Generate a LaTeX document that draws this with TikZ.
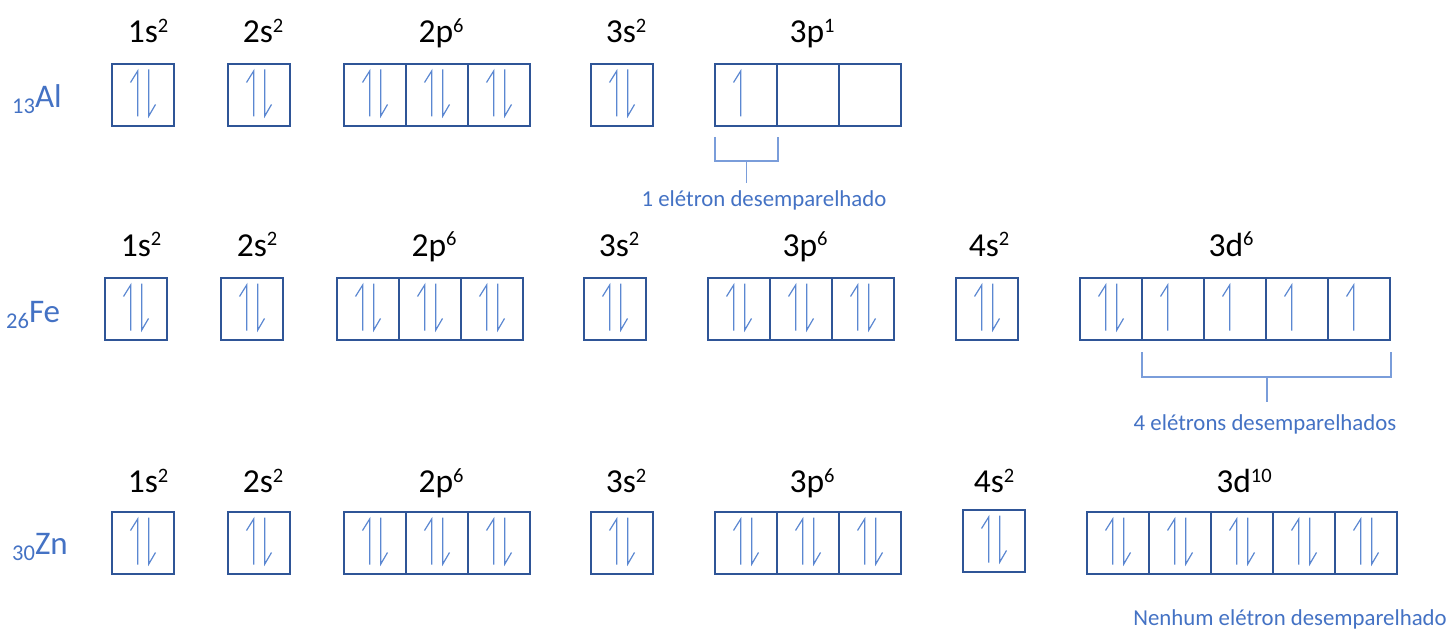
\documentclass[tikz,border=0pt]{standalone}
\usepackage{fontspec}
\setmainfont{Carlito}
\usetikzlibrary{calc}
\definecolor{boxc}{HTML}{2F5597}
\definecolor{elc}{HTML}{5B87D1}
\definecolor{txtc}{HTML}{4472C4}
\definecolor{brc}{HTML}{7A9DDA}
\newcommand\orbUp[1]{\draw[el] ($(#1)+(-5.3,21.5)$) -- ($(#1)+(-5.3,-24)$) -- ($(#1)+(-12.5,-12.5)$);}
\newcommand\orbDn[1]{\draw[el] ($(#1)+(5.8,-25.5)$) -- ($(#1)+(5.8,21)$) -- ($(#1)+(12.5,9.5)$);}
\newcommand\orbPair[1]{\orbUp{#1}\orbDn{#1}}
\newcommand\olab[2]{#1\raisebox{10pt}{\fontsize{20.5}{24}\selectfont #2}}
\newcommand\elab[2]{\raisebox{-6pt}{\fontsize{22.5}{26}\selectfont #1}\fontsize{33}{38}\selectfont #2}
\begin{document}
\begin{tikzpicture}[x=1pt,y=-1pt,
  orb/.style={draw=boxc,line width=1.6pt,minimum size=62pt,inner sep=0pt,outer sep=0pt},
  el/.style={draw=elc,line width=1.2pt},
  br/.style={draw=brc,line width=1.1pt},
  lbl/.style={anchor=base,inner sep=0pt,font=\fontsize{33.5}{38}\selectfont},
  elem/.style={anchor=base west,inner sep=0pt,text=txtc},
  note/.style={anchor=base,inner sep=0pt,text=txtc,font=\fontsize{22.8}{26}\selectfont}]
\useasboundingbox (0,0) rectangle (1451,631);

% ---------- Al ----------
\node[elem] (alname) at (12,108) {\elab{13}{Al}};
\node[orb] (al1s) at (143,95) {};
\node[orb] (al2s) at (259,95) {};
\node[orb] (al2p1) at (375,95) {};
\node[orb] (al2p2) at (437,95) {};
\node[orb] (al2p3) at (499,95) {};
\node[orb] (al3s) at (622,95) {};
\node[orb] (al3p1) at (746,95) {};
\node[orb] (al3p2) at (808,95) {};
\node[orb] (al3p3) at (870,95) {};
\foreach \n in {al1s,al2s,al2p1,al2p2,al2p3,al3s} {\orbPair{\n}}
\orbUp{al3p1}
\node[lbl] (alL1) at (148,43) {\olab{1s}{2}};
\node[lbl] (alL2) at (263,43) {\olab{2s}{2}};
\node[lbl] (alL3) at (441,43) {\olab{2p}{6}};
\node[lbl] (alL4) at (626,43) {\olab{3s}{2}};
\node[lbl] (alL5) at (812,43) {\olab{3p}{1}};
\coordinate (albL) at (715,137);
\coordinate (albR) at (778,137);
\coordinate (albM) at (746.5,161);
\coordinate (albS) at (746.5,183);
\draw[br] (albL) |- (albM) -| (albR);
\draw[br] (albM) -- (albS);
\node[note] (alnote) at (764,207) {1 elétron desemparelhado};

% ---------- Fe ----------
\node[elem] (fename) at (6,322) {\elab{26}{Fe}};
\node[orb] (fe1s) at (136,309) {};
\node[orb] (fe2s) at (252,309) {};
\node[orb] (fe2p1) at (368,309) {};
\node[orb] (fe2p2) at (430,309) {};
\node[orb] (fe2p3) at (492,309) {};
\node[orb] (fe3s) at (615,309) {};
\node[orb] (fe3p1) at (739,309) {};
\node[orb] (fe3p2) at (801,309) {};
\node[orb] (fe3p3) at (863,309) {};
\node[orb] (fe4s) at (987,309) {};
\node[orb] (fe3d1) at (1111,309) {};
\node[orb] (fe3d2) at (1173,309) {};
\node[orb] (fe3d3) at (1235,309) {};
\node[orb] (fe3d4) at (1297,309) {};
\node[orb] (fe3d5) at (1359,309) {};
\foreach \n in {fe1s,fe2s,fe2p1,fe2p2,fe2p3,fe3s,fe3p1,fe3p2,fe3p3,fe4s,fe3d1} {\orbPair{\n}}
\foreach \n in {fe3d2,fe3d3,fe3d4,fe3d5} {\orbUp{\n}}
\node[lbl] (feL1) at (141,256) {\olab{1s}{2}};
\node[lbl] (feL2) at (257,256) {\olab{2s}{2}};
\node[lbl] (feL3) at (434,256) {\olab{2p}{6}};
\node[lbl] (feL4) at (619,256) {\olab{3s}{2}};
\node[lbl] (feL5) at (805,256) {\olab{3p}{6}};
\node[lbl] (feL6) at (989,256) {\olab{4s}{2}};
\node[lbl] (feL7) at (1231,256) {\olab{3d}{6}};
\coordinate (febL) at (1142,352);
\coordinate (febR) at (1391,352);
\coordinate (febM) at (1267,377);
\coordinate (febS) at (1267,402);
\draw[br] (febL) |- (febM) -| (febR);
\draw[br] (febM) -- (febS);
\node[note] (fenote) at (1265,430) {4 elétrons desemparelhados};

% ---------- Zn ----------
\node[elem] (znname) at (12,554) {\elab{30}{Zn}};
\node[orb] (zn1s) at (143,543) {};
\node[orb] (zn2s) at (259,543) {};
\node[orb] (zn2p1) at (375,543) {};
\node[orb] (zn2p2) at (437,543) {};
\node[orb] (zn2p3) at (499,543) {};
\node[orb] (zn3s) at (622,543) {};
\node[orb] (zn3p1) at (746,543) {};
\node[orb] (zn3p2) at (808,543) {};
\node[orb] (zn3p3) at (870,543) {};
\node[orb] (zn4s) at (994,541) {};
\node[orb] (zn3d1) at (1118,543) {};
\node[orb] (zn3d2) at (1180,543) {};
\node[orb] (zn3d3) at (1242,543) {};
\node[orb] (zn3d4) at (1304,543) {};
\node[orb] (zn3d5) at (1366,543) {};
\foreach \n in {zn1s,zn2s,zn2p1,zn2p2,zn2p3,zn3s,zn3p1,zn3p2,zn3p3,zn4s,zn3d1,zn3d2,zn3d3,zn3d4,zn3d5} {\orbPair{\n}}
\node[lbl] (znL1) at (148,492) {\olab{1s}{2}};
\node[lbl] (znL2) at (263,492) {\olab{2s}{2}};
\node[lbl] (znL3) at (441,492) {\olab{2p}{6}};
\node[lbl] (znL4) at (626,492) {\olab{3s}{2}};
\node[lbl] (znL5) at (812,492) {\olab{3p}{6}};
\node[lbl] (znL6) at (994,492) {\olab{4s}{2}};
\node[lbl] (znL7) at (1244,492) {\olab{3d}{10}};
\node[note] (znnote) at (1290,625) {Nenhum elétron desemparelhado};
\end{tikzpicture}
\end{document}
